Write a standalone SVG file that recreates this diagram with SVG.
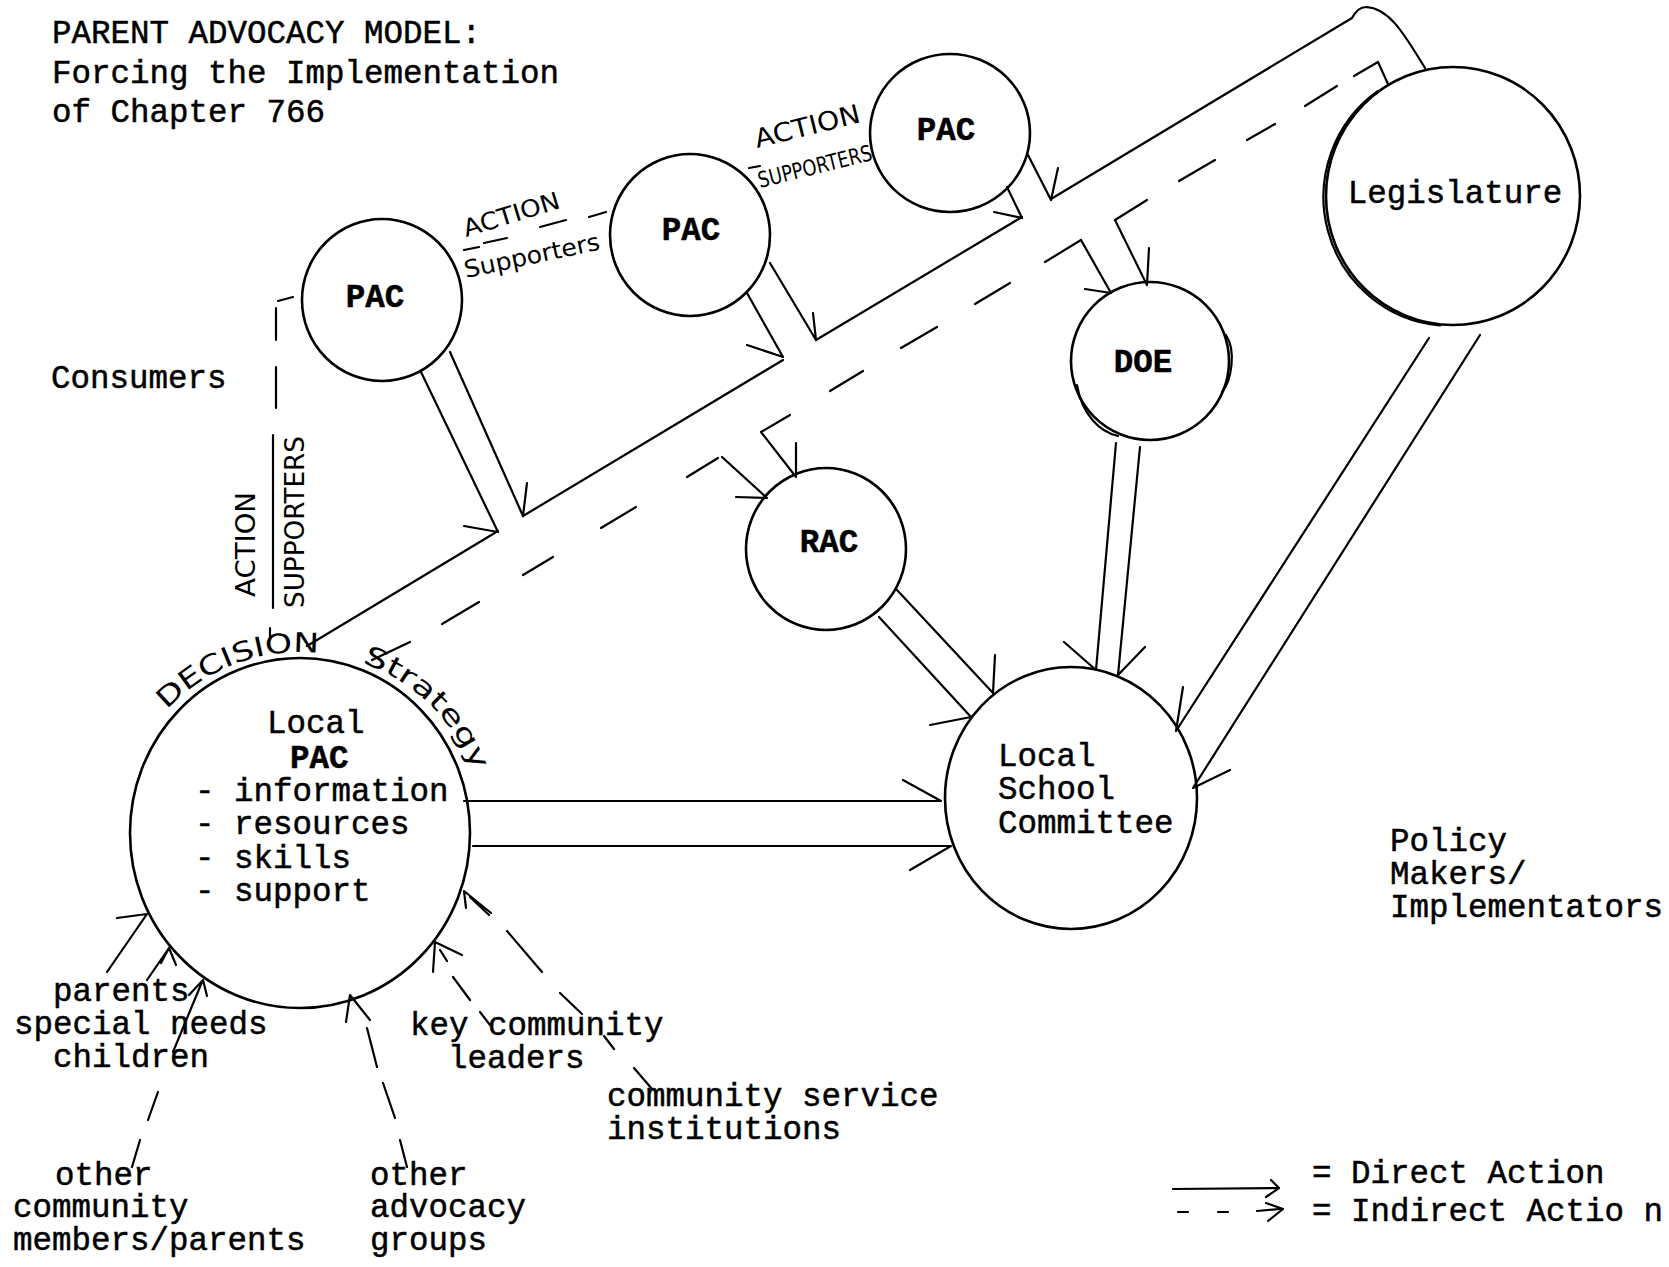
<svg xmlns="http://www.w3.org/2000/svg" width="1669" height="1267" viewBox="0 0 1669 1267">
<defs>
<style>
.tw{font-family:"Liberation Mono","DejaVu Sans Mono",monospace;font-size:32.5px;fill:#000;stroke:#000;stroke-width:0.5}
.b{font-weight:bold;text-anchor:middle}
.hw{font-family:"DejaVu Sans","Liberation Sans",sans-serif;fill:#000}
.node{fill:none;stroke:#000;stroke-width:2.6}
.ln{fill:none;stroke:#000;stroke-width:2.2;stroke-linecap:round;stroke-linejoin:round}
</style>
<path id="arcDecision" d="M166.9,709.9 A182,182 0 0 1 331.6,654.8"/>
<path id="arcStrategy" d="M362,663 A182,182 0 0 1 475,776"/>
</defs>
<rect width="1669" height="1267" fill="#fff"/>

<g id="title" class="tw">
<text x="52" y="43">PARENT ADVOCACY MODEL:</text>
<text x="52" y="83">Forcing the Implementation</text>
<text x="52" y="122">of Chapter 766</text>
</g>

<g id="consumers" class="tw"><text x="51" y="388">Consumers</text></g>
<g id="policy-makers" class="tw">
<text x="1390" y="851">Policy</text>
<text x="1390" y="884">Makers/</text>
<text x="1390" y="917">Implementators</text>
</g>

<g id="pac1"><ellipse class="node" cx="382" cy="300" rx="80" ry="81"/><text class="tw b" x="375" y="307">PAC</text></g>
<g id="pac2"><ellipse class="node" cx="690" cy="235" rx="80" ry="81"/><text class="tw b" x="691" y="240">PAC</text></g>
<g id="pac3"><ellipse class="node" cx="950" cy="133" rx="80" ry="79"/><text class="tw b" x="946" y="140">PAC</text></g>
<g id="legislature"><ellipse class="node" cx="1453" cy="196" rx="127" ry="129"/>
<path class="ln" d="M1378,91 A127,129 0 0 0 1440,325.5" stroke-width="1.2"/>
<text class="tw" x="1455" y="203" text-anchor="middle">Legislature</text></g>
<g id="doe"><ellipse class="node" cx="1150" cy="361" rx="79" ry="79"/>
<path class="ln" d="M1077,385 C1082,415 1100,432 1118,436 M1226,335 C1236,350 1232,380 1222,392" stroke-width="1.6"/>
<text class="tw b" x="1143" y="372">DOE</text></g>
<g id="rac"><ellipse class="node" cx="826" cy="549" rx="80" ry="81"/><text class="tw b" x="829" y="552">RAC</text></g>
<g id="local-school-committee"><ellipse class="node" cx="1071" cy="798" rx="126" ry="131"/>
<text class="tw" x="998" y="766">Local</text>
<text class="tw" x="998" y="799">School</text>
<text class="tw" x="998" y="833">Committee</text>
</g>
<g id="local-pac"><ellipse class="node" cx="300" cy="833" rx="170" ry="175"/>
<text class="tw" x="267" y="733">Local</text>
<text class="tw" x="290" y="768" font-weight="bold">PAC</text>
<text class="tw" x="195" y="801">- information</text>
<text class="tw" x="195" y="834">- resources</text>
<text class="tw" x="195" y="868">- skills</text>
<text class="tw" x="195" y="901">- support</text>
</g>

<g id="source-parents" class="tw">
<text x="53" y="1001">parents</text>
<text x="14" y="1034">special needs</text>
<text x="53" y="1067">children</text>
</g>
<g id="source-other-community" class="tw">
<text x="55" y="1185">other</text>
<text x="13" y="1217">community</text>
<text x="13" y="1250">members/parents</text>
</g>
<g id="source-other-advocacy" class="tw">
<text x="370" y="1185">other</text>
<text x="370" y="1217">advocacy</text>
<text x="370" y="1250">groups</text>
</g>
<g id="source-key-leaders" class="tw">
<text x="410" y="1035">key community</text>
<text x="448" y="1068">leaders</text>
</g>
<g id="source-service-institutions" class="tw">
<text x="607" y="1106">community service</text>
<text x="607" y="1139">institutions</text>
</g>

<g id="connectors" class="ln">
<path d="M307,646 L498,531 M523,516 L783,360 M816,340 L1022,217 M1051,199 L1352,18 Q1358,7 1366,7 C1388,8 1402,30 1425,68"/>
<path d="M372,660 L410,642 M442,624 L479,602 M523,575 L553,557 M601,528 L636,507 M687,477 L718,458 M761,432 L790,415 M830,391 L863,371 M901,348 L937,327 M975,304 L1010,283 M1045,262 L1081,240 M1115,220 L1147,200 M1179,181 L1215,160 M1247,140 L1275,124 M1305,106 L1337,86 M1354,76 L1378,62 L1388,84"/>
<path d="M421,372 L498,532 L464,526"/>
<path d="M450,352 L523,516 L527,483"/>
<path d="M747,293 L783,357 L747,345"/>
<path d="M770,263 L816,340 L813,313"/>
<path d="M1007,187 L1022,218 L994,212"/>
<path d="M1028,155 L1051,200 L1058,168"/>
<path d="M1081,240 L1111,293 L1085,289"/>
<path d="M1115,220 L1147,285 L1149,248"/>
<path d="M761,432 L796,477 L796,443"/>
<path d="M722,457 L767,498 L736,497"/>
<path d="M897,590 L993,693 L995,655"/>
<path d="M879,617 L971,717 L930,725"/>
<path d="M1116,443 L1096,670 L1064,642"/>
<path d="M1140,447 L1118,675 L1145,647"/>
<path d="M1429,338 L1176,731 L1183,687"/>
<path d="M1480,335 L1193,788 L1230,770"/>
<path d="M464,801 L941,801 L903,780"/>
<path d="M473,846 L951,846 L910,870"/>
<path d="M278,301 L293,297 M276,308 L276,340 M276,367 L276,408 M273,435 L273,608 M270,628 L270,640"/>
<path d="M464,250 L479,247 M484,243 L507,238 M540,227 L566,220 M589,217 L606,212"/>
<path d="M749,168 L760,166"/>
<path d="M107,972 L147,914 L117,918"/>
<path d="M147,980 L169,948 M161,963 L169,948 L176,965"/>
<path d="M173,1052 L202,982 M189,995 L203,980 L207,996 M158,1092 L148,1120 M140,1140 L132,1167"/>
<path d="M407,1167 L400,1140 M395,1118 L383,1083 M377,1067 L367,1028 M346,1022 L350,995 L370,1020"/>
<path d="M433,972 L435,942 L462,955 M440,950 L447,961 M453,977 L470,1000 M480,1012 L490,1025"/>
<path d="M466,908 L464,891 L491,913 M470,897 L489,915 M507,931 L542,972 M560,993 L582,1014 M604,1036 L614,1049 M634,1068 L652,1089"/>
</g>

<g id="annotations" class="hw">
<text transform="translate(255,597) rotate(-90)" font-size="26" textLength="105" lengthAdjust="spacingAndGlyphs">ACTION</text>
<text transform="translate(304,608) rotate(-90)" font-size="26" textLength="172" lengthAdjust="spacingAndGlyphs">SUPPORTERS</text>
<text transform="translate(466,237) rotate(-17)" font-size="24" textLength="100" lengthAdjust="spacingAndGlyphs">ACTION</text>
<text transform="translate(466,278) rotate(-12)" font-size="24" textLength="138" lengthAdjust="spacingAndGlyphs">Supporters</text>
<text transform="translate(757,148) rotate(-14)" font-size="26" textLength="108" lengthAdjust="spacingAndGlyphs">ACTION</text>
<text transform="translate(760,188) rotate(-14)" font-size="22" textLength="117" lengthAdjust="spacingAndGlyphs">SUPPORTERS</text>
<text font-size="27"><textPath href="#arcDecision" textLength="168" lengthAdjust="spacingAndGlyphs">DECISION</textPath></text>
<text font-size="27"><textPath href="#arcStrategy" textLength="160" lengthAdjust="spacingAndGlyphs">Strategy</textPath></text>
</g>

<g id="legend">
<path class="ln" d="M1173,1189 L1278,1188" stroke-width="3.5"/>
<path class="ln" d="M1271,1180 L1279,1188 L1266,1197"/>
<path class="ln" d="M1178,1212 L1188,1212 M1218,1212 L1228,1212 M1257,1211 L1280,1209 M1266,1203 L1283,1209 L1268,1221"/>
<text class="tw" x="1312" y="1183">= Direct Action</text>
<text class="tw" x="1312" y="1221">= Indirect Actio n</text>
</g>
</svg>
